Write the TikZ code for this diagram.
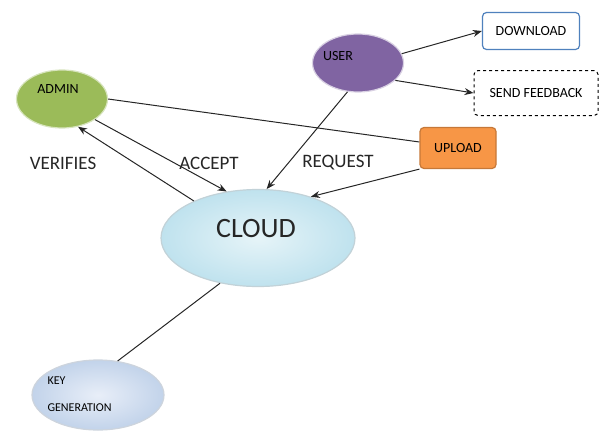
\documentclass[tikz,border=0pt]{standalone}
\usepackage{fontspec}
\setmainfont{Carlito}
\usetikzlibrary{shapes.geometric,arrows.meta,shadows}
\definecolor{admingreen}{HTML}{9BBB59}
\definecolor{userpurple}{HTML}{8064A2}
\definecolor{uporange}{HTML}{F79646}
\definecolor{dlblue}{HTML}{4F81BD}
\definecolor{cloudblue}{HTML}{BFE2EE}
\definecolor{cloudlight}{HTML}{E6F4F8}
\definecolor{keyblue}{HTML}{C2D3EA}
\definecolor{keylight}{HTML}{E8EEF8}
\tikzset{
  x=1pt, y=-1pt,
  oval/.style={ellipse, inner sep=0pt, line width=1.2pt},
  rbox/.style={rounded corners=4pt, line width=1.2pt, font=\fontsize{14}{16}\selectfont, text=black},
  conn/.style={line width=1pt, black!85},
  arr/.style={conn, -{Stealth[length=9pt,width=7pt]}},
  lbl/.style={font=\fontsize{19}{21}\selectfont, text=black!85},
  small/.style={font=\fontsize{14}{16}\selectfont, text=black},
}
\begin{document}
\begin{tikzpicture}
\useasboundingbox (0,0) rectangle (604,436);
% nodes
\node[oval, minimum width=91pt, minimum height=58pt, fill=admingreen, draw=admingreen!40!white] (admin) at (62,99) {};
\node[small, anchor=center] (admint) at (58,89) {ADMIN};
\node[oval, minimum width=91pt, minimum height=58pt, fill=userpurple, draw=userpurple!30!white] (user) at (358,63) {};
\node[small, anchor=center] (usert) at (338,56) {USER};
\node[oval, minimum width=194pt, minimum height=97pt, inner color=cloudlight, outer color=cloudblue, draw=cloudblue!80!black!60!white] (cloud) at (258,238) {};
\node[font=\fontsize{28}{30}\selectfont, text=black!85] (cloudt) at (256,229) {CLOUD};
\node[oval, minimum width=132pt, minimum height=70pt, inner color=keylight, outer color=keyblue, draw=keyblue!80!black!50!white] (key) at (98,395) {};
\node[small, align=left, anchor=west, font=\fontsize{12}{27}\selectfont] (keyt) at (44,394) {KEY\\GENERATION};
\node[rbox, draw=dlblue, fill=white, minimum width=97pt, minimum height=37pt] (down) at (531,31) {DOWNLOAD};
\node[rbox, draw=black, dashed, line width=1pt, fill=white, minimum width=124pt, minimum height=45pt] (feed) at (536,93) {SEND FEEDBACK};
\node[rbox, draw=uporange!80!black, fill=uporange, minimum width=76pt, minimum height=41pt] (up) at (458,148) {UPLOAD};
% labels
\node[lbl] (lv) at (63,163) {VERIFIES};
\node[lbl] (la) at (209,163) {ACCEPT};
\node[lbl] (lr) at (338,163) {REQUEST};
% connectors
\coordinate (upL) at (420,142);
\draw[conn] (admin.east) -- (up.west |- upL);
\draw[arr] (admin.-32) -- (cloud.124);
\draw[arr] (cloud.150) -- (admin.-60);
\draw[arr] (user.-110) -- (cloud.80);
\draw[arr] (up.south west) -- (cloud.38);
\draw[arr] (user.12) -- (down.west);
\draw[arr] (user.-25) -- (feed.west);
\draw[conn] (cloud.-130) -- (key.60);
\end{tikzpicture}
\end{document}
